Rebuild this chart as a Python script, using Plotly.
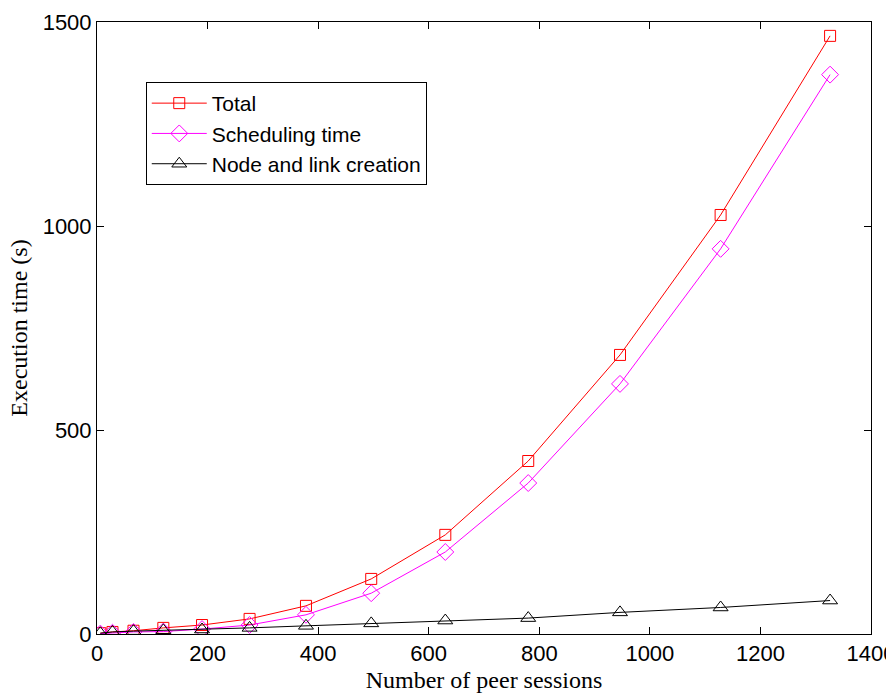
import plotly.graph_objects as go

# Number of peer sessions for each run
sessions = [6, 28, 66, 120, 190, 276, 378, 496, 630, 780, 946, 1128, 1326]

# Execution times (s)
total = [2, 5, 8, 15, 22, 37, 69, 135, 243, 424, 684, 1027, 1466]
scheduling = [1, 3, 5, 6, 12, 22, 47, 100, 201, 370, 613, 944, 1371]
node_link = [2, 5, 7, 9, 11, 15, 20, 26, 33, 39, 53, 65, 82]

x_ticks = [0, 200, 400, 600, 800, 1000, 1200, 1400]
y_ticks = [0, 500, 1000, 1500]

sans = "Liberation Sans, Arial, sans-serif"
serif = "Liberation Serif, Times New Roman, serif"

fig = go.Figure()
series = [
    ("Total", total, "#ff0000", "square-open", 11),
    ("Scheduling time", scheduling, "#ff00ff", "diamond-open", 13),
    ("Node and link creation", node_link, "#000000", "triangle-up-open", 13),
]
for name, vals, color, symbol, size in series:
    fig.add_trace(go.Scatter(
        x=sessions, y=vals, name=name, mode="lines+markers",
        line=dict(color=color, width=1),
        marker=dict(symbol=symbol, size=size, color=color,
                    line=dict(color=color, width=1)),
    ))

axis_common = dict(
    showline=True, linecolor="black", linewidth=1, mirror="ticks",
    ticks="inside", ticklen=7, tickcolor="black", tickwidth=1,
    showgrid=False, zeroline=False, automargin=False,
    tickfont=dict(family=sans, size=22, color="black"),
)

fig.update_layout(
    width=886, height=693,
    margin=dict(l=97, r=15, t=22, b=59),
    paper_bgcolor="white", plot_bgcolor="white",
    xaxis=dict(range=[0, 1400], tickvals=x_ticks,
               ticktext=[str(v) for v in x_ticks],
               ticklabeloverflow="allow",
               title=dict(text="Number of peer sessions",
                          font=dict(family=serif, size=24, color="black"),
                          standoff=6),
               **axis_common),
    yaxis=dict(range=[0, 1500], tickvals=y_ticks,
               ticktext=[str(v) for v in y_ticks],
               title=dict(text="Execution time (s)",
                          font=dict(family=serif, size=24, color="black"),
                          standoff=8),
               **axis_common),
    legend=dict(x=0.063, y=0.902, xanchor="left", yanchor="top",
                bordercolor="black", borderwidth=1, bgcolor="white",
                font=dict(family=sans, size=21, color="black"),
                itemwidth=55, tracegroupgap=0),
    showlegend=True,
)

fig.write_html("out.html")
